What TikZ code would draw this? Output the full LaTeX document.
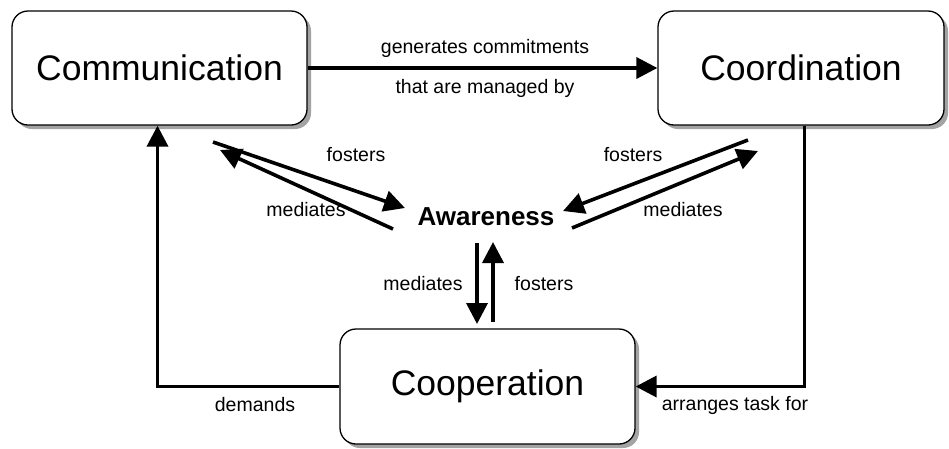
\documentclass[tikz,border=0pt]{standalone}
\usepackage{fontspec}
\setmainfont{Liberation Sans}
\usetikzlibrary{arrows.meta,shadows,calc}
\begin{document}
\begin{tikzpicture}[x=1pt,y=-1pt,
  box/.style={draw=black,line width=1.3pt,rounded corners=16pt,fill=white,
    drop shadow={shadow xshift=4pt,shadow yshift=-4pt,fill=black!45,opacity=0.8},
    minimum height=114pt,inner sep=0pt,font=\fontsize{35.5}{41}\selectfont},
  conn/.style={line width=3.6pt,-{Triangle[length=21pt,width=21pt]}},
  lbl/.style={font=\fontsize{19.5}{23}\selectfont,inner sep=0pt}]
\useasboundingbox (0,0) rectangle (949,448);
\node[box,minimum width=295pt] (comm) at (159.5,68) {Communication};
\node[box,minimum width=286pt] (coord) at (801,68) {Coordination};
\node[box,minimum width=295pt,minimum height=115pt] (coop) at (487.5,386.5) {Cooperation};
\node[font=\bfseries\fontsize{26}{30}\selectfont,inner sep=0pt] (aw) at (486,217) {Awareness};
% top arrow
\draw[conn] (comm.east) -- (coord.west);
\node[lbl] (l1) at (485,48) {generates commitments};
\node[lbl] (l2) at (485,88) {that are managed by};
% feedback loops
\draw[conn,rounded corners=0pt] ([xshift=3.5pt]coord.south) |- (coop.east);
\node[lbl] (l3) at (735,405) {arranges task for};
\draw[conn] (coop.west) -| ([xshift=-2pt]comm.south);
\node[lbl] (l4) at (255,405) {demands};
% left diagonal
\coordinate (a1) at (213,142);
\coordinate (a2) at (405,208);
\coordinate (b1) at (393,229);
\coordinate (b2) at (220,150);
\draw[conn] (a1) -- (a2);
\draw[conn] (b1) -- (b2);
\node[lbl] (l5) at (356,155) {fosters};
\node[lbl] (l6) at (306,210) {mediates};
% right diagonal
\coordinate (c1) at (748,140);
\coordinate (c2) at (563,211);
\coordinate (d1) at (572,228);
\coordinate (d2) at (758,151);
\draw[conn] (c1) -- (c2);
\draw[conn] (d1) -- (d2);
\node[lbl] (l7) at (633,155) {fosters};
\node[lbl] (l8) at (683,210) {mediates};
% vertical
\coordinate (e1) at (477,243);
\coordinate (e2) at (477,324);
\coordinate (f1) at (493,322);
\coordinate (f2) at (493,242);
\draw[conn] (e1) -- (e2);
\draw[conn] (f1) -- (f2);
\node[lbl] (l9) at (423,284) {mediates};
\node[lbl] (l10) at (544,284) {fosters};
\end{tikzpicture}
\end{document}
